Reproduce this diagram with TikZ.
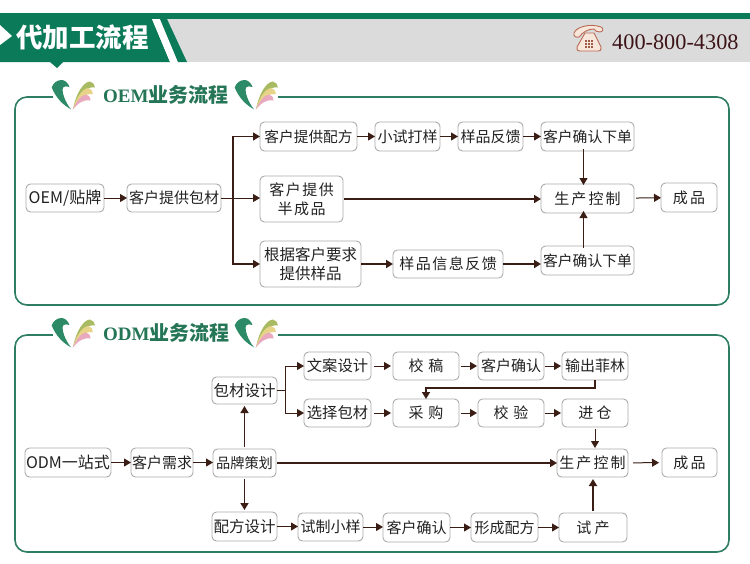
\documentclass[tikz,border=0pt]{standalone}
\usepackage{fontspec}
\setmainfont{Noto Sans CJK SC}
\newfontfamily\widecjk[LetterSpace=10]{Noto Sans CJK SC}
\newfontfamily\widercjk[LetterSpace=14]{Noto Sans CJK SC}
\newfontfamily\latinserif{Liberation Serif}
\usetikzlibrary{arrows.meta}
\definecolor{hdgreen}{HTML}{0B7A58}
\definecolor{band}{HTML}{DCDBDC}
\definecolor{framegreen}{HTML}{2F7D62}
\definecolor{logogreen}{HTML}{2C8A66}
\definecolor{leafolive}{HTML}{A9BB62}
\definecolor{leafyellow}{HTML}{E7D488}
\definecolor{leafpink}{HTML}{E9A9BE}
\definecolor{boxline}{HTML}{ABABAB}
\definecolor{boxtext}{HTML}{222222}
\definecolor{arrowbrown}{HTML}{3A1E16}
\definecolor{telred}{HTML}{B86A55}
\definecolor{telfill}{HTML}{F8E6DA}
\definecolor{teltext}{HTML}{3C1418}
\tikzset{
  frameline/.style={draw=framegreen,line width=1.6pt,rounded corners=12pt},
  flowbox/.style={draw=boxline,line width=0.9pt,rounded corners=4.5pt,fill=white,
    inner sep=0pt,outer sep=0pt,align=center,text=boxtext,
    font=\fontsize{15}{19}\selectfont},
  sized/.style={font=\fontsize{#1}{19}\selectfont},
  wide/.style={font=\fontsize{15}{19}\selectfont\widecjk},
  wider/.style={font=\fontsize{15}{19}\selectfont\widercjk},
  thin link/.style={draw=arrowbrown,line width=1pt,-{Triangle[length=7pt,width=8pt]}},
  thick link/.style={draw=arrowbrown,line width=1.8pt,-{Triangle[length=7pt,width=8pt]}},
  plain link/.style={draw=arrowbrown,line width=1.4pt},
  pics/brandmark/.style={code={
    \fill[logogreen] (-0.3,7.5) .. controls (1,3) and (5,0) .. (9.7,0)
      .. controls (13,0) and (16,3) .. (17.5,7)
      .. controls (15,6) and (12,6) .. (11,7.5)
      .. controls (9.5,12) and (13,22) .. (19,29.3)
      .. controls (11,25) and (4,18) .. (-0.3,7.5) -- cycle;
    \fill[leafolive] (21,29) .. controls (24,14) and (31,2) .. (38,1.5)
      .. controls (41,2) and (43,5) .. (43,7.5)
      .. controls (36,6) and (28,12) .. (21,29) -- cycle;
    \fill[leafyellow] (21,29) .. controls (24,18) and (30,9) .. (36,8)
      .. controls (39,8.5) and (41,11) .. (41,14)
      .. controls (34,13) and (27,18) .. (21,29) -- cycle;
    \fill[leafpink] (20.5,30) .. controls (24,22) and (29,15) .. (34,14.5)
      .. controls (36.5,15) and (38.5,17) .. (38.5,20.5)
      .. controls (32,19) and (26,23) .. (20.5,30) -- cycle;
  }}
}
% Places a box by its left, right, top and bottom edges
\newcommand\flowbox[7][]{%
  \pgfmathsetmacro\bcx{(#3+#4)/2}\pgfmathsetmacro\bcy{(#5+#6)/2}%
  \pgfmathsetmacro\bw{#4-#3}\pgfmathsetmacro\bh{#6-#5}%
  \node[flowbox,#1,minimum width=\bw pt,minimum height=\bh pt] (#2) at (\bcx,\bcy) {#7};}
\begin{document}
\begin{tikzpicture}[x=1pt,y=-1pt]
\useasboundingbox (0,0) rectangle (750,563);
\fill[white] (0,0) rectangle (750,563);

% Page header band
\fill[band] (0,19) rectangle (750,62);
\fill[hdgreen] (0,13) rectangle (750,19);
\fill[hdgreen] (0,19) -- (152,19) -- (170,62) -- (0,62) -- cycle;
\fill[white] (152,19) -- (160,19) -- (178,62) -- (170,62) -- cycle;
\fill[hdgreen] (160,19) -- (167,19) -- (187,62) -- (178,62) -- cycle;
\fill[white] (0,25) -- (12,36) -- (0,45) -- cycle;
\fill[hdgreen] (50,62) -- (63,62) -- (57,68) -- cycle;
\node[anchor=west,inner sep=0pt,text=white,font=\fontsize{26.5}{26.5}\selectfont\bfseries] (pagetitle) at (16,37) {代加工流程};

% Telephone icon and number
\begin{scope}[draw=telred,line width=0.9pt,fill=telfill]
  \filldraw (574,33) .. controls (576,27) and (590,23) .. (601,27)
    .. controls (604,28) and (603,32) .. (600,32)
    .. controls (597,32) and (595,31) .. (594,29)
    .. controls (588,29) and (583,32) .. (579,37)
    .. controls (576,38) and (573,36) .. (574,33) -- cycle;
  \filldraw (585,33) -- (594,33) -- (601,47) .. controls (601,51) and (600,51) .. (598,51)
    -- (580,51) .. controls (578,51) and (577,51) .. (577,47) -- cycle;
  \fill[telred!85!black] (584.5,40) rectangle (592.5,48);
  \draw[telfill,line width=0.6pt] (587.2,40) -- (587.2,48) (589.9,40) -- (589.9,48)
    (584.5,42.7) -- (592.5,42.7) (584.5,45.4) -- (592.5,45.4);
\end{scope}
\node[anchor=west,inner sep=0pt,text=teltext,font=\fontsize{22.3}{22}\selectfont\latinserif] (telnumber) at (612,42) {400-800-4308};

% Section frames
\draw[frameline] (15,97) rectangle (729,305);
\draw[frameline] (15,335) rectangle (729,552);
\fill[white] (53,85) rectangle (278,110);
\fill[white] (53,323) rectangle (278,348);

% Section headings
\pic at (52,80) {brandmark};
\pic at (235,80) {brandmark};
\node[anchor=west,inner sep=0pt,text=logogreen!85!black,font=\fontsize{20}{20}\selectfont\bfseries] (oemhead) at (103,95) {{\latinserif\fontsize{19}{19}\selectfont OEM}业务流程};
\pic at (52,318) {brandmark};
\pic at (235,318) {brandmark};
\node[anchor=west,inner sep=0pt,text=logogreen!85!black,font=\fontsize{20}{20}\selectfont\bfseries] (odmhead) at (103,333) {{\latinserif\fontsize{19}{19}\selectfont ODM}业务流程};

% OEM flow boxes
\flowbox[sized=16]{oema}{26}{104}{184}{212}{OEM/贴牌}
\flowbox{oemb}{127}{221}{184}{212}{客户提供包材}
\flowbox[sized=14.7]{oemc}{260}{357}{122}{151}{客户提供配方}
\flowbox[wide]{oemd}{260}{343}{176}{222}{客户提供\\半成品}
\flowbox[sized=15.5]{oeme}{260}{361}{241}{287}{根据客户要求\\提供样品}
\flowbox{oemf}{375}{440}{122}{151}{小试打样}
\flowbox{oemg}{458}{523}{122}{151}{样品反馈}
\flowbox[sized=14.8]{oemh}{541}{634}{122}{151}{客户确认下单}
\flowbox[wider]{oemi}{541}{634}{184}{213}{生产控制}
\flowbox[wider]{oemj}{661}{717}{183}{212}{成品}
\flowbox[wide]{oemk}{393}{503}{250}{278}{样品信息反馈}
\flowbox[sized=14.8]{oeml}{541}{634}{246}{275}{客户确认下单}

% OEM flow connectors
\draw[thin link] (oema) -- (oemb);
\draw[plain link,line width=1pt] (oemb.east) -- ++(12,0) coordinate (oemsplit);
\draw[thin link,line width=1.4pt] (oemsplit) |- (oemc);
\draw[thin link] (oemsplit) -- (oemsplit -| oemd.west);
\draw[thin link,line width=1.4pt] (oemsplit) |- (oeme);
\draw[thin link] (oemc) -- (oemf);
\draw[thin link] (oemf) -- (oemg);
\draw[thin link] (oemg) -- (oemh);
\draw[thin link] ([xshift=-4pt,yshift=2pt]oemh.south) -- ([xshift=-4pt,yshift=-1pt]oemi.north);
\draw[thick link,shorten <=1pt] (oemd.east) -- (oemd.east -| oemi.west);
\draw[thin link,shorten <=2pt] (oemi) -- (oemj);
\draw[thick link] (oeme) -- (oemk);
\draw[thick link] (oemk.east) -- (oemk.east -| oeml.west);
\draw[thin link] ([xshift=-4pt,yshift=-2pt]oeml.north) -- ([xshift=-4pt,yshift=2pt]oemi.south);

% ODM flow boxes
\flowbox[sized=16]{odma}{25}{111}{448}{477}{ODM一站式}
\flowbox{odmb}{131}{193}{448}{477}{客户需求}
\flowbox[sized=14.2]{odmc}{213}{276}{449}{477}{品牌策划}
\flowbox[sized=15.5]{odmd}{212}{277}{377}{404}{包材设计}
\flowbox[sized=15.3]{odme}{304}{371}{352}{380}{文案设计}
\flowbox[sized=15.3]{odmf}{304}{371}{399}{427}{选择包材}
\flowbox[sized=15.5]{odmg}{212}{277}{512}{541}{配方设计}
\flowbox{odmh}{298}{363}{513}{541}{试制小样}
\flowbox[wide]{odmi}{393}{459}{352}{380}{校 稿}
\flowbox{odmj}{478}{544}{352}{380}{客户确认}
\flowbox{odmk}{562}{628}{352}{380}{输出菲林}
\flowbox[wide]{odml}{393}{459}{399}{427}{采 购}
\flowbox[wide]{odmm}{478}{544}{399}{427}{校 验}
\flowbox{odmn}{562}{628}{399}{427}{进 仓}
\flowbox[wider]{odmo}{557}{628}{449}{477}{生产控制}
\flowbox[wider]{odmp}{662}{717}{448}{477}{成品}
\flowbox{odmq}{383}{450}{513}{542}{客户确认}
\flowbox{odmr}{471}{538}{513}{542}{形成配方}
\flowbox{odms}{559}{627}{513}{542}{试 产}

% ODM flow connectors
\draw[thin link] (odma) -- (odmb);
\draw[thin link] (odmb.east) -- (odmb.east -| odmc.west);
\draw[thick link,line width=1.5pt,shorten <=2pt,shorten >=2pt] (odmc) -- (odmd);
\draw[thick link,line width=1.5pt,shorten <=2pt,shorten >=2pt] (odmc) -- (odmg);
\draw[thick link,line width=1.5pt,shorten <=1pt] (odmc) -- (odmo);
\draw[thin link] (odmg.east) -- (odmg.east -| odmh.west);
\draw[thin link] (odmh.east) -- (odmh.east -| odmq.west);
\draw[thin link] (odmq) -- (odmr);
\draw[thin link] (odmr) -- (odms);
\draw[thick link,line width=2pt,shorten <=2pt,shorten >=2pt] (odms.north) -- (odms.north |- odmo.south);
\draw[plain link] (odmd.east) -- ++(8,0) coordinate (odmsplit);
\draw[thin link] (odmsplit) |- (odme);
\draw[thin link] (odmsplit) |- (odmf);
\draw[thin link,shorten <=3pt,shorten >=2pt] (odme) -- (odmi);
\draw[thin link,shorten <=2pt,shorten >=1pt] (odmi) -- (odmj);
\draw[thin link,shorten <=1pt,shorten >=1pt] (odmj) -- (odmk);
\draw[thin link,shorten <=3pt,shorten >=2pt] (odmf) -- (odml);
\draw[thin link,shorten <=2pt,shorten >=1pt] (odml) -- (odmm);
\draw[thin link,shorten <=1pt,shorten >=1pt] (odmm) -- (odmn);
\draw[thick link,line width=1.6pt] (odmk.south) -- ++(0,8) -| (odml.north);
\draw[thin link,shorten <=2pt,shorten >=1pt] (odmn) -- (odmn.south |- odmo.north);
\draw[thin link,shorten <=5pt,shorten >=3pt] (odmo) -- (odmp);
\end{tikzpicture}
\end{document}
